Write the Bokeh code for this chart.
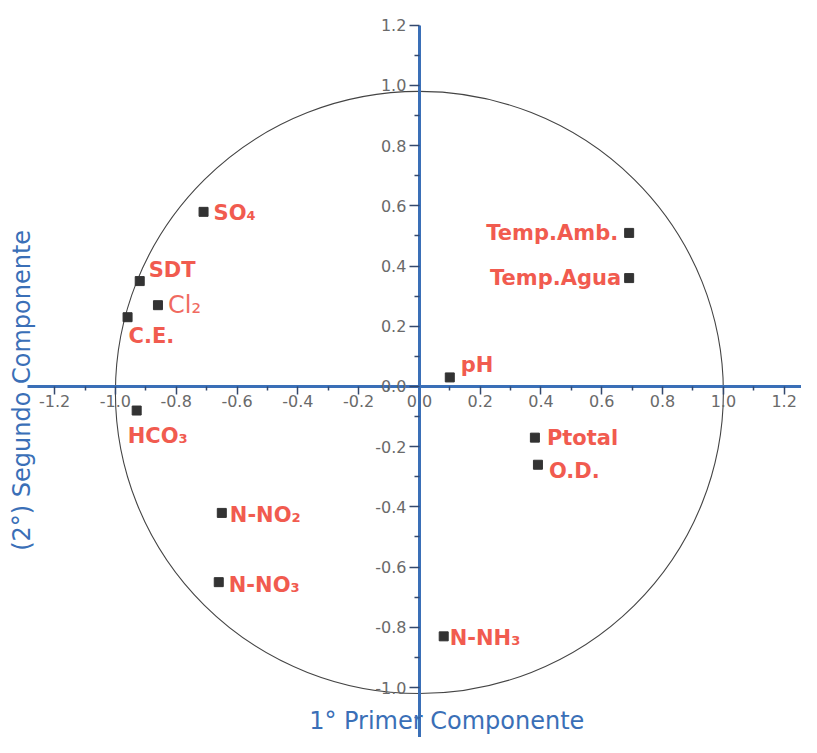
from bokeh.plotting import figure
from bokeh.models import FixedTicker, NumeralTickFormatter, Label, ColumnDataSource
from bokeh.core.properties import value
from bokeh.embed import file_html
from bokeh.resources import INLINE
import math

# ---- data (loadings) ----
names = ["SO\u2084", "SDT", "C.E.", "HCO\u2083", "Temp.Amb.", "Temp.Agua", "pH",
         "Ptotal", "O.D.", "N-NO\u2082", "N-NO\u2083", "N-NH\u2083"]
pc1 = [-0.71, -0.92, -0.96, -0.93, 0.69, 0.69, 0.10, 0.38, 0.39, -0.65, -0.66, 0.08]
pc2 = [0.58, 0.35, 0.23, -0.08, 0.51, 0.36, 0.03, -0.17, -0.26, -0.42, -0.65, -0.83]

cl_name = ["Cl\u2082"]
cl_pc1 = [-0.86]
cl_pc2 = [0.27]

axis_ticks = [-1.2, -1.0, -0.8, -0.6, -0.4, -0.2, 0.0, 0.2, 0.4, 0.6, 0.8, 1.0, 1.2]
minor_ticks = [-1.1, -0.9, -0.7, -0.5, -0.3, -0.1, 0.1, 0.3, 0.5, 0.7, 0.9, 1.1]

# ---- label layout (screen offsets, styles) ----
lab_align = ["left", "left", "left", "left", "right", "right", "left",
             "left", "left", "left", "left", "left"]
lab_dx = [10, 9, 1, -9, -11, -8, 11, 12, 11, 8, 10, 6]
lab_dy = [1, -11, 19, 25, 0, 0, -12, 0, 6, 2, 3, 2]

RED = "#f15b4f"
BLUE = "#3a6fb7"

p = figure(width=801, height=737, x_range=(-1.378, 1.257), y_range=(-1.166, 1.282),
           output_backend="svg", toolbar_location=None, min_border=0)
p.outline_line_color = None
p.grid.visible = False
p.background_fill_color = "white"

# unit circle
p.ellipse(x=0, y=-0.02, width=2.0, height=2.0, fill_color=None,
          line_color="#444444", line_width=1.1)

for ax in (p.xaxis[0], p.yaxis[0]):
    ax.fixed_location = 0
    ax.ticker = FixedTicker(ticks=axis_ticks, minor_ticks=minor_ticks)
    ax.formatter = NumeralTickFormatter(format="0.0")
    ax.axis_line_color = BLUE
    ax.axis_line_width = 3
    ax.major_tick_line_color = "#34496e"
    ax.minor_tick_line_color = "#34496e"
    ax.major_tick_line_width = 1.5
    ax.minor_tick_line_width = 1.5
    ax.major_tick_in = 0
    ax.minor_tick_in = 0
    ax.major_label_text_font = "DejaVu Sans"
    ax.major_label_text_font_size = "16px"
    ax.major_label_text_color = "#6a6a6a"

p.xaxis.bounds = (-1.29, 1.3)
p.xaxis.major_tick_out = 8
p.xaxis.minor_tick_out = 4
p.xaxis.major_label_standoff = 1
p.yaxis.bounds = (-1.2, 1.2)
p.yaxis.major_tick_out = 10
p.yaxis.minor_tick_out = 5
p.yaxis.major_label_standoff = 3

src = ColumnDataSource(dict(x=pc1, y=pc2, name=names, align=lab_align, dx=lab_dx, dy=lab_dy))
p.scatter(x="x", y="y", source=src, marker="square", size=9,
          fill_color="#333333", line_color="#333333")
p.scatter(x=cl_pc1, y=cl_pc2, marker="square", size=9,
          fill_color="#333333", line_color="#333333")

p.text(x="x", y="y", text="name", source=src, x_offset="dx", y_offset="dy",
       text_align="align", text_baseline="middle", text_color=RED,
       text_font=value("DejaVu Sans"), text_font_style="bold", text_font_size="21px")
p.text(x=cl_pc1, y=cl_pc2, text=cl_name, x_offset=10, y_offset=0,
       text_align="left", text_baseline="middle", text_color="#f06a60",
       text_font=value("DejaVu Sans"), text_font_size="24px")

p.add_layout(Label(x=0.09, y=-1.112, text="1\u00b0 Primer Componente",
                   text_align="center", text_baseline="middle", text_color=BLUE,
                   text_font="DejaVu Sans", text_font_size="24px"))
p.add_layout(Label(x=-1.306, y=-0.013, text="(2\u00b0) Segundo Componente", angle=math.pi / 2,
                   text_align="center", text_baseline="middle", text_color=BLUE,
                   text_font="DejaVu Sans", text_font_size="24px"))

open("out.html", "w").write(file_html(p, INLINE))
